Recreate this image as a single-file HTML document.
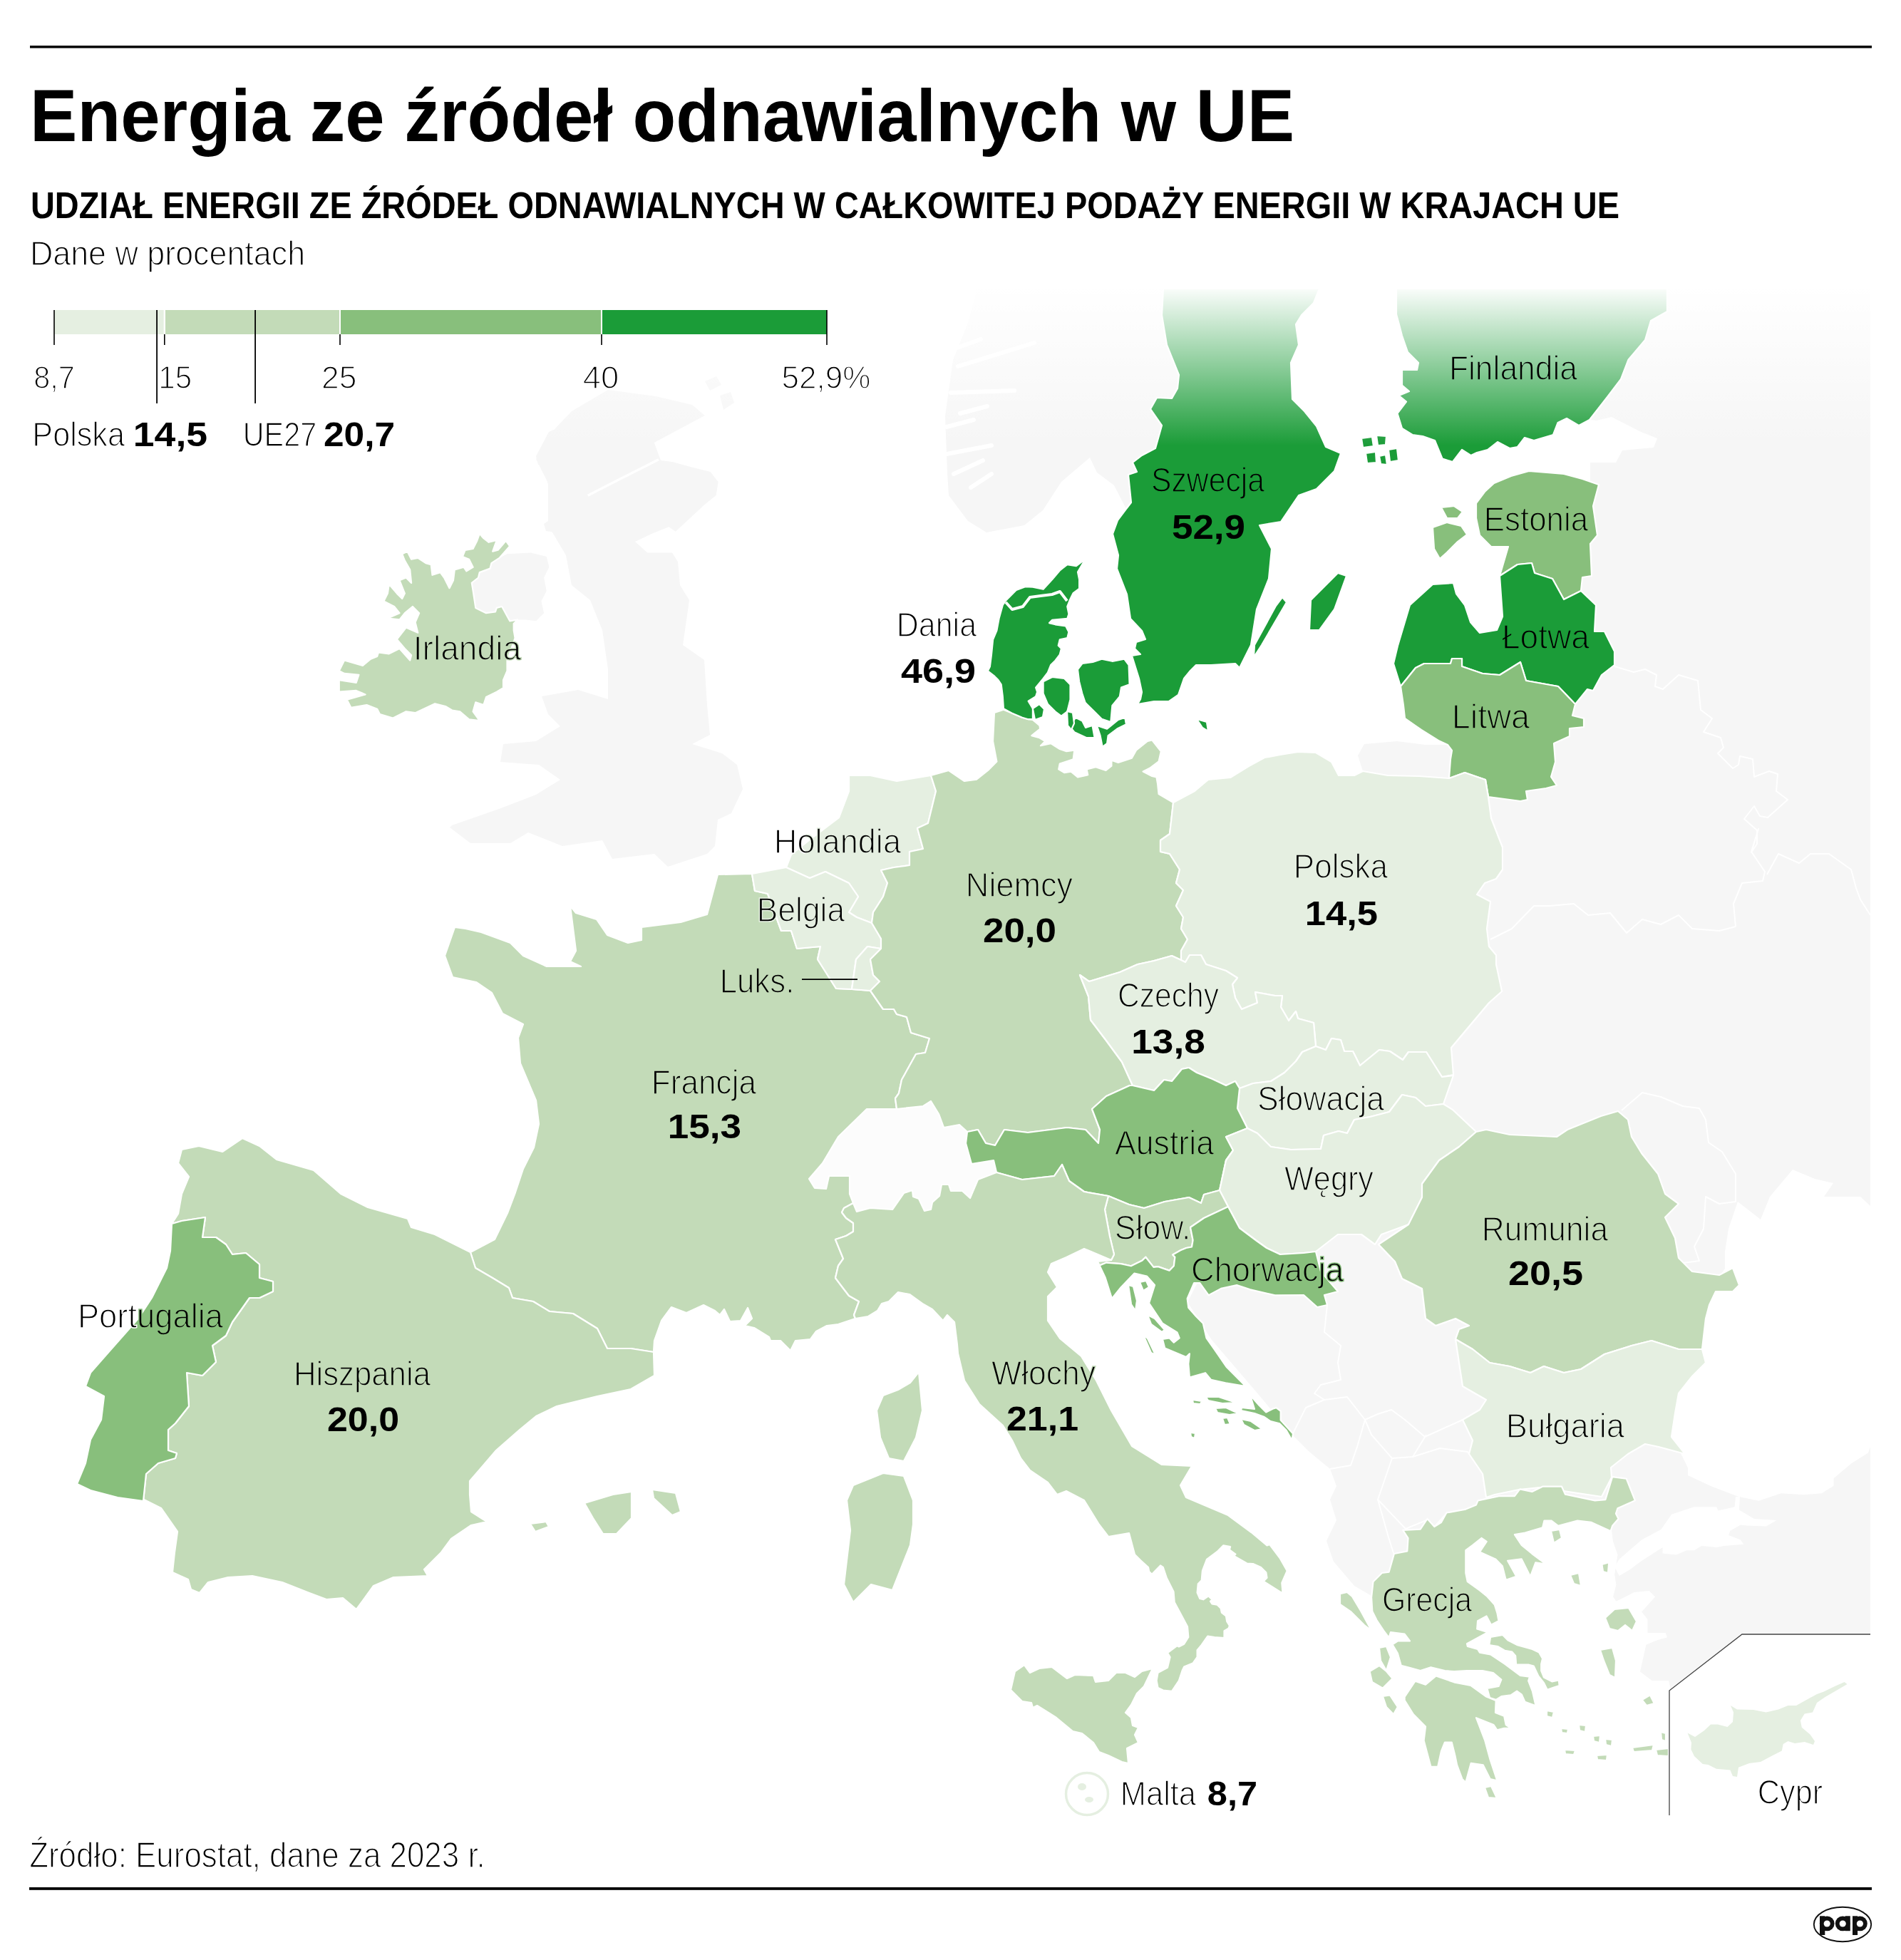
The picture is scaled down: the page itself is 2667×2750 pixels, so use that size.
<!DOCTYPE html><html><head><meta charset="utf-8"><style>html,body{margin:0;padding:0;background:#fff;}svg{display:block;will-change:transform;}text{font-family:"Liberation Sans", sans-serif;}</style></head><body>
<svg xmlns="http://www.w3.org/2000/svg" width="2667" height="2750" viewBox="0 0 2667 2750">
<defs><linearGradient id="fade" x1="0" y1="0" x2="0" y2="1"><stop offset="0" stop-color="#fff" stop-opacity="1"/><stop offset="1" stop-color="#fff" stop-opacity="0"/></linearGradient><linearGradient id="gfin" gradientUnits="userSpaceOnUse" x1="0" y1="400" x2="0" y2="625"><stop offset="0" stop-color="#fff"/><stop offset="1" stop-color="#1b9c38"/></linearGradient><linearGradient id="gnld" gradientUnits="userSpaceOnUse" x1="1090" y1="0" x2="1263" y2="0"><stop offset="0.23" stop-color="#fff"/><stop offset="0.23" stop-color="#e5efe1"/></linearGradient><linearGradient id="gprt" gradientUnits="userSpaceOnUse" x1="113" y1="0" x2="312" y2="0"><stop offset="0.4" stop-color="#fff"/><stop offset="0.4" stop-color="#88bf7c"/></linearGradient><clipPath id="mapclip"><rect x="42" y="405" width="2582" height="2142"/></clipPath></defs>
<rect width="2667" height="2750" fill="#fff"/>
<g clip-path="url(#mapclip)">
<polygon points="853,547 920,556 971,568 988.8,583 917.8,621 927,646 943,648 971.4,655.7 996.7,662 1007.7,676.2 1004.6,695 988.8,707.8 947.8,745.7 938.3,739.3 914.6,748.8 891,759.9 908.3,775.6 943,775.6 951,788.3 954,821 967,842 958,905 988,926 992,989 996,1031 971,1044 1013,1057 1034,1073 1042,1107 1026,1141 1007,1150 1003,1187 992,1198 937,1216 918,1198 859,1205 845,1179 789,1187 741,1168 716,1183 660,1183 631,1161 634,1158 700,1135 752,1115 786,1094 756,1073 702,1069 706,1044 752,1040 786,1019 769,1002 760,977 811,968 853,981 853,939 845,884 828,842 802,821 794,779 769,737 769,678 752,644 780,600 802,577" fill="#f6f6f6"/>
<polygon points="661.8,817.9 672.8,803.1 689.4,788.4 711.5,777.3 744.7,775.5 766.8,781 770.4,795.8 763.1,810.5 766.8,828.9 759.4,843.6 763.1,860.2 752,871.3 737.3,869.4 726.2,869.4 715.2,871.3 704.1,851 696.8,852.9 695,858.4 682,860.2 667.3,852.9 663.6,828.9" fill="#f6f6f6"/>
<polygon points="1371,405 1632,405 1630,442 1637,484 1654,526 1652,545 1644,559 1623,558 1614,574 1630,597 1621,629 1602,639 1589,649 1595,662 1583,666 1587,705 1580,714 1563,681 1539,663 1529,642 1489,676 1463,716 1437,737 1384,747 1358,731 1331,695 1329,663 1326,584 1337,505 1358,453" fill="#f6f6f6"/>
<polygon points="1914,1044 1960,1040 2000,1045 2031,1045 2037,1053 2035,1065 2033,1092 1991,1089 1947,1088 1912,1082 1905,1060" fill="#f6f6f6"/>
<polygon points="752,640 770,606 790,597 785,620 768,651 755,652" fill="#f6f6f6"/>
<polygon points="768,675 780,673 782,687 770,686" fill="#f6f6f6"/>
<polygon points="763,735 775,727 785,732 780,747 766,745" fill="#f6f6f6"/>
<polygon points="989,535 1005,528 1012,540 996,548" fill="#f6f6f6"/>
<polygon points="1010,555 1025,550 1030,565 1015,575" fill="#f6f6f6"/>
<polyline points="824.7,695.2 870,672 924.1,644.7" fill="none" stroke="#fff" stroke-width="3.5" stroke-linejoin="round"/>
<polygon points="2339,405 2624,405 2624,2293 2444,2293 2343.1,2372 2343.1,2366.7 2341,2358.2 2317.9,2358.2 2301,2345.6 2309.4,2307.7 2324.2,2301.4 2338.9,2297.2 2336.8,2290.9 2311.5,2290.9 2311.5,2272 2303.1,2261.5 2322.1,2240.4 2313.6,2232 2292.6,2234.1 2267.4,2246.7 2263.1,2240.4 2267.4,2223.6 2265.2,2208.9 2269.5,2181.5 2263,2162.6 2261,2147.8 2255,2110 2030,2121 1924,2239 1900,2225 1871,2191 1861,2162 1875,2133 1866,2104 1875,2085 1866,2061 1837,2037 1813,2013 1760,1950 1700,1880 1666,1827 1700,1760 1800,1700 1950,1600 2000,1480 2060,1300 2070,1150 2075,1105 2140,1080 2180,1000 2200,900 2200,800 2231,678 2231,649 2267,649 2276,632 2320,628 2325,615 2300,605 2261,585 2240,590 2230,589 2255,557 2274,532 2284.5,504.7 2308,477 2316,450 2339,437" fill="#f6f6f6"/>
<polygon points="2425,1724 2438,1686 2470,1711 2483,1679 2515,1641 2546,1654 2572,1660 2559,1679 2610,1679 2624,1692 2624,2030 2620.9,2038.4 2597.7,2053.1 2572.5,2074.2 2572.5,2084.7 2555.6,2095.2 2530.4,2097.3 2498.8,2095.2 2467.2,2105.7 2437.8,2099.4 2400,2085 2368,2070 2368,2059.5 2360,2043 2340,2011 2350,1966 2360,1922 2375,1871 2380,1820 2406,1800 2420,1780 2420,1756" fill="#fff"/>
<polygon points="2345.2,2124.7 2376.8,2114.2 2408.3,2114.2 2410.4,2119.4 2433.6,2114.2 2435,2100 2441,2100 2439.9,2118.4 2460.9,2131 2492.5,2133.1 2477.8,2141.5 2450.4,2140.5 2442,2139.4 2427.3,2147.8 2425.2,2154.1 2442,2160.5 2446.2,2166.8 2418.9,2168.9 2408.3,2171 2387.3,2168.9 2376.8,2175.2 2366.2,2175.2 2351.5,2181.5 2332.6,2179.4 2332.6,2171 2303.1,2189.9 2286.3,2202.5 2271.6,2211 2265.2,2198.3 2271.6,2187.8 2303.1,2160.5 2330.5,2145.7" fill="#fff"/>
<polyline points="2265,935 2292,943 2308,939 2324,947 2322,963 2333,967 2355,947 2382,955 2386,996 2402,1008 2390,1027 2414,1035 2418,1049 2410,1057 2431,1078 2439,1073 2441,1061 2459,1065 2461,1090 2482,1082 2494,1086 2492,1110 2508,1122 2480,1147 2469,1145 2461,1131 2447,1149 2465,1165 2465,1184 2457,1196 2467,1163 2457,1195 2476,1223 2473,1236 2444,1239 2432,1268 2435,1300" fill="none" stroke="#fff" stroke-width="2" stroke-linejoin="round"/>
<polyline points="2091,1318 2121,1303 2152,1271 2174,1271 2208,1268 2228,1284 2259,1281 2282,1309 2304,1290 2330,1297 2355,1284 2374,1303 2412,1306 2435,1300" fill="none" stroke="#fff" stroke-width="2" stroke-linejoin="round"/>
<polyline points="2479,1227 2495,1198 2524,1211 2540,1198 2566,1198 2597,1220 2604,1246 2610,1262 2624,1284" fill="none" stroke="#fff" stroke-width="2" stroke-linejoin="round"/>
<polyline points="2275,1558 2304,1533 2330,1539 2361,1552 2384,1555 2393,1571 2397,1603 2416,1616 2435,1647 2435,1686 2412,1689 2393,1679 2390,1724 2377,1749 2384,1769 2361,1772" fill="none" stroke="#fff" stroke-width="2" stroke-linejoin="round"/>
<polyline points="1862,1831 1858,1869 1881,1888 1877,1912 1881,1936 1853,1943 1844,1955 1858,1964 1832,1975 1813,2013" fill="none" stroke="#fff" stroke-width="2" stroke-linejoin="round"/>
<polyline points="1934,1746 1957,1770 1967,1794 1995,1808 2000,1850 2014,1860 2042,1850 2061,1860 2047,1865 2042,1879" fill="none" stroke="#fff" stroke-width="2" stroke-linejoin="round"/>
<polyline points="1858,1964 1890,1960 1915,1992 1933,1984 1952,1978 1971,1992 1999,2016 2052,1992" fill="none" stroke="#fff" stroke-width="2" stroke-linejoin="round"/>
<polyline points="1915,1992 1924,2013 1953,2046 1982,2044 2001,2013" fill="none" stroke="#fff" stroke-width="2" stroke-linejoin="round"/>
<polyline points="1866,2061 1895,2056 1904,2030 1915,1992" fill="none" stroke="#fff" stroke-width="2" stroke-linejoin="round"/>
<polyline points="1953,2046 1933,2104 1948,2157 1962,2201 1928,2235" fill="none" stroke="#fff" stroke-width="2" stroke-linejoin="round"/>
<polyline points="1933,2104 1972,2145 2001,2133" fill="none" stroke="#fff" stroke-width="2" stroke-linejoin="round"/>
<polyline points="1982,2044 2020,2032 2059,2037 2083,2071 2085,2101" fill="none" stroke="#fff" stroke-width="2" stroke-linejoin="round"/>
<polygon points="1216,1556 1250,1552 1295,1552 1306,1545 1317,1563 1324,1582 1346,1578 1357,1588 1355,1604 1363,1633 1394,1628 1398,1645 1372,1655 1361,1681 1350,1671 1334,1671 1331,1662 1321,1662 1318,1678 1308,1687 1306,1697 1297,1699 1289,1682 1281,1679 1280,1670 1268,1674 1252,1697 1221,1695 1202,1700 1197,1688 1192,1675 1192,1650 1163,1650 1159,1668 1143,1667 1135,1654 1154,1632 1176,1595" fill="#fcfcfc"/>
<line x1="1334" y1="491" x2="1376" y2="476" stroke="#fff" stroke-width="6" stroke-linecap="round"/>
<line x1="1344" y1="514" x2="1451" y2="481" stroke="#fff" stroke-width="6" stroke-linecap="round"/>
<line x1="1334" y1="551" x2="1423" y2="548" stroke="#fff" stroke-width="6" stroke-linecap="round"/>
<line x1="1347" y1="580" x2="1385" y2="570" stroke="#fff" stroke-width="6" stroke-linecap="round"/>
<line x1="1328" y1="599" x2="1366" y2="589" stroke="#fff" stroke-width="6" stroke-linecap="round"/>
<line x1="1328" y1="637" x2="1391" y2="625" stroke="#fff" stroke-width="6" stroke-linecap="round"/>
<line x1="1338" y1="665" x2="1379" y2="646" stroke="#fff" stroke-width="6" stroke-linecap="round"/>
<line x1="1362" y1="684" x2="1391" y2="665" stroke="#fff" stroke-width="6" stroke-linecap="round"/>
<polygon points="672.8,748.8 678.4,755.2 685.7,760.8 696.8,758 691.2,773.7 698.6,771.8 709.7,758.9 715.2,766.3 700.5,782.9 689.4,790.2 687.6,797.6 672.8,803.1 671,810.5 661.8,817.9 663.6,828.9 667.3,852.9 682,860.2 695,858.4 696.8,852.9 704.1,851 715.2,871.3 726.2,869.4 720.7,875 720.7,884.2 722.6,895.2 711.5,926.5 711.5,941.3 706,954.1 706,965.2 696.8,970.7 682,978.1 678.4,989.1 667.3,985.4 663.6,998.3 672.8,1011.2 658.1,1009.4 645.2,998.3 634.2,996.5 625,991 610.2,987.3 582.6,1000.2 569.7,998.3 551.3,1007.5 532.9,1002 529.2,994.7 514.5,989.1 492.4,992.8 486.8,981.8 512.6,974.4 499.7,968.9 475.8,970.7 475.8,954.1 499.7,957.8 503.4,946.8 483.1,944.9 475.8,941.3 483.1,926.5 508.9,933.9 520,924.7 529.2,921 531,915.5 545.8,917.3 560.5,910 575.2,926.5 577.1,919.2 567.9,910 556.8,897 569.7,880.5 586.3,887.8 582.6,873.1 588.1,860.2 578.9,851 567.9,860.2 560.5,869.4 543.9,867.6 560.5,860.2 553.1,851 538.4,843.6 543.9,832.6 545.8,819.7 556.8,832.6 564.2,840 567.9,832.6 560.5,814.2 569.7,810.5 577.1,817.9 575.2,799.4 567.9,786.6 564.2,777.3 571.5,773.7 577.1,784.7 586.3,782.9 597.3,790.2 604.7,792.1 606.5,806.8 617.6,803.1 623.1,810.5 630.5,825.2 636,814.2 637.8,799.4 650.7,795.8 654.4,801.3 663.6,795.8 658.1,784.7 648.9,781 652.6,771.8 663.6,770 669.2,758.9" fill="#c3dbb8" stroke="#fff" stroke-width="2.2" stroke-linejoin="round"/>
<polygon points="1055,1226 1007,1227 992,1283 955,1294 900,1301 900,1319 881,1323 852,1312 837,1290 808,1281 800,1271 808,1334 800,1349 815,1356 767,1356 734,1341 716,1323 675,1308 653,1303 638,1301 624,1341 635,1371 668,1378 690,1393 705,1422 734,1437 727,1456 730,1492 741,1518 752,1544 756,1577 749,1610 734,1640 723,1673 712,1702 694,1739 660,1757 667,1779 691,1793 714,1807 719,1821 748,1826 771,1840 804,1843 838,1864 852,1892 885,1892 917,1897 918,1881 928,1853 942,1834 963,1842 987,1831 1003,1839 1010,1845 1016,1837 1024,1854 1039,1853 1049,1835 1055,1850 1045,1860 1058,1863 1079,1876 1081,1881 1095,1881 1109,1895 1116,1881 1137,1879 1145,1868 1160,1860 1176,1858 1200,1850 1198,1845 1205,1826 1191,1818 1181,1805 1172,1793 1176,1776 1183,1766 1172,1739 1187,1734 1197,1728 1197,1716 1187,1709 1181,1701 1184,1695 1197,1688 1192,1675 1192,1650 1163,1650 1159,1668 1143,1667 1135,1654 1154,1632 1176,1595 1216,1556 1258,1556 1256,1541 1261,1534 1265,1515 1285,1479 1298,1477 1304,1457 1278,1449 1272,1427 1258,1423 1254,1416 1239,1416 1221,1390 1195,1388 1173,1387 1147,1346 1151,1328 1118,1331 1110,1306 1096,1306 1077,1254 1059,1250" fill="#c3dbb8" stroke="#fff" stroke-width="2.2" stroke-linejoin="round"/>
<polygon points="1289,1925 1294,1979 1285,2017 1268,2050 1247,2046 1235,2017 1230,1979 1239,1958 1260,1950 1277,1940" fill="#c3dbb8" stroke="#fff" stroke-width="2.2" stroke-linejoin="round"/>
<polygon points="255,1613 279,1608 312,1616 340,1597 364,1608 388,1627 440,1642 478,1675 516,1694 572,1710 577,1722 610,1732 660,1757 667,1779 691,1793 714,1807 719,1821 748,1826 771,1840 804,1843 838,1864 852,1892 885,1892 917,1897 918,1930 885,1949 838,1959 781,1973 752,1987 729,2006 696,2035 672,2063 659,2078 659,2097 661,2121 683,2135 661,2140 633,2159 619,2178 595,2202 600,2211 552,2213 524,2225 500,2258 481,2242 458,2244 434,2235 396,2220 354,2211 320,2213 292,2220 280,2235 268,2230 264,2216 242,2206 245,2178 249,2149 226,2116 202,2104 201,2106 205,2068 222,2053 246,2046 248,2039 236,2035 236,2006 246,1997 265,1973 262,1926 284,1930 303,1911 298,1888 317,1874 326,1855 350,1821 364,1821 383,1812 383,1798 364,1793 364,1774 345,1758 326,1760 317,1746 303,1736 284,1736 288,1708 255,1713 241,1717 250,1703 255,1675 265,1651 250,1632" fill="#c3dbb8" stroke="#fff" stroke-width="2.2" stroke-linejoin="round"/>
<polygon points="241,1717 255,1713 288,1708 284,1736 303,1736 317,1746 326,1760 345,1758 364,1774 364,1793 383,1798 383,1812 364,1821 350,1821 326,1855 317,1874 298,1888 303,1911 284,1930 262,1926 265,1973 246,1997 236,2006 236,2035 248,2039 246,2046 222,2053 205,2068 201,2106 165,2101 127,2091 108,2082 120,2053 127,2020 142,1992 146,1959 120,1945 127,1926 156,1893 194,1850 213,1821 234,1779 239,1755" fill="#88bf7c" stroke="#fff" stroke-width="2.2" stroke-linejoin="round"/>
<polygon points="820,2109 860,2097 886,2093 886,2130 865,2152 846,2152 832,2130" fill="#c3dbb8" stroke="#fff" stroke-width="2.2" stroke-linejoin="round"/>
<polygon points="915,2090 948,2095 955,2121 943,2126 917,2102" fill="#c3dbb8" stroke="#fff" stroke-width="2.2" stroke-linejoin="round"/>
<polygon points="744,2138 766,2135 770,2142 751,2149" fill="#c3dbb8" stroke="#fff" stroke-width="2.2" stroke-linejoin="round"/>
<polygon points="1191,1088 1221,1088 1258,1096 1306,1088 1313,1110 1302,1155 1287,1162 1295,1191 1276,1195 1276,1214 1254,1217 1236,1221 1245,1239 1239,1258 1225,1280 1223,1295 1202,1287 1191,1280 1204,1258 1191,1239 1158,1223 1136,1232 1103,1217 1110,1199 1140,1175 1177,1147 1191,1110" fill="#e5efe1" stroke="#fff" stroke-width="2.2" stroke-linejoin="round"/>
<polygon points="1055,1226 1103,1217 1136,1232 1158,1223 1191,1239 1204,1258 1191,1280 1202,1287 1223,1295 1236,1317 1236,1331 1217,1328 1201,1346 1195,1388 1173,1387 1147,1346 1151,1328 1118,1331 1110,1306 1096,1306 1077,1254 1059,1250" fill="#e5efe1" stroke="#fff" stroke-width="2.2" stroke-linejoin="round"/>
<polygon points="1201,1346 1217,1328 1236,1331 1221,1346 1225,1368 1234,1377 1221,1390 1195,1388" fill="#e5efe1" stroke="#fff" stroke-width="2.2" stroke-linejoin="round"/>
<polygon points="1407.9,995.8 1419.4,1000.4 1434.2,1006.7 1442.6,1009.2 1448.9,1010 1458.4,1017.9 1459.2,1022.6 1447.3,1032.1 1458.4,1035.2 1466.3,1040 1460,1046.3 1474.2,1043.1 1486.8,1051 1496.2,1054.2 1507.3,1052.6 1505.7,1065.2 1486.8,1071.5 1485.2,1079.4 1493.1,1084.1 1502.6,1082.6 1512,1090.5 1526.2,1087.3 1524.6,1079.4 1537.3,1076.3 1551.5,1081 1559.4,1074.7 1559.4,1066.8 1568.8,1070 1587.8,1063.6 1594,1052.6 1609.9,1040 1616.2,1038.4 1628.8,1054.2 1625.6,1068.4 1613,1077.8 1603.6,1082.6 1616.2,1088.9 1622.5,1090.5 1624.1,1099.9 1625.6,1114.1 1646,1126 1641,1170 1628,1179 1628,1195 1641,1198 1655,1220 1650,1239 1660,1249 1650,1271 1660,1287 1657,1303 1666,1318 1657,1334 1657,1347 1644,1341 1619,1348 1596,1353 1571,1364 1528,1377 1515,1368 1527,1398 1530,1431 1552,1460 1574,1490 1589,1523 1585,1523 1552,1538 1532,1556 1543,1585 1541,1604 1523,1585 1497,1582 1442,1589 1409,1585 1396,1607 1383,1604 1372,1585 1357,1588 1346,1578 1324,1582 1317,1563 1306,1545 1295,1552 1258,1556 1256,1541 1261,1534 1265,1515 1285,1479 1298,1477 1304,1457 1278,1449 1272,1427 1258,1423 1254,1416 1239,1416 1221,1390 1234,1377 1225,1368 1221,1346 1236,1331 1236,1317 1223,1295 1225,1280 1239,1258 1245,1239 1236,1221 1254,1217 1276,1214 1276,1195 1295,1191 1287,1162 1302,1155 1313,1110 1306,1088 1331,1081 1353,1096 1370,1093.6 1386,1081 1398.4,1068.4 1393,1040 1395,1000" fill="#c3dbb8" stroke="#fff" stroke-width="2.2" stroke-linejoin="round"/>
<polygon points="1522.5,784.7 1509.9,794.2 1497.3,792.1 1486.8,800.5 1476.2,813.1 1463.6,826.8 1448.9,823.6 1438.4,823.2 1425.7,827.9 1411,842.6 1406.8,848.9 1401.6,867.8 1398.4,884.7 1393.1,897.3 1391,918.3 1388.9,935.2 1385.8,941.5 1394.2,947.8 1400.5,954.1 1404.7,960.4 1406.8,977.2 1407.9,994.1 1419.4,1000.4 1434.2,1006.7 1442.6,1009.2 1448.9,1008.8 1448.9,994.1 1442.6,983.6 1453.1,977.2 1455.2,970.9 1453.1,964.6 1463.6,952 1469.9,943.6 1474.1,933.1 1480.5,926.7 1486.8,918.3 1488.9,909.9 1484.7,905.7 1486.8,897.3 1497.3,895.2 1499.4,886.8 1495.2,878.4 1480.5,876.3 1472,874.1 1476.2,869.9 1497.3,867.8 1499.4,861.5 1497.3,851 1501.5,840.5 1505.7,832.1 1514.1,825.8 1514.1,813.1 1512,802.6" fill="#1b9c38" stroke="#fff" stroke-width="2.2" stroke-linejoin="round"/>
<polygon points="1463.6,956.2 1476.2,949.9 1493.1,952 1501.5,960.4 1501.5,981.5 1497.3,998.3 1488.9,1004.6 1480.5,998.3 1469.9,987.8 1463.6,973" fill="#1b9c38" stroke="#fff" stroke-width="2.2" stroke-linejoin="round"/>
<polygon points="1512,939.4 1518.3,931 1533.1,928.9 1545.7,924.6 1560.4,927.8 1577.2,924.6 1583.6,933.1 1584.6,960.4 1573,964.6 1570.9,977.2 1560.4,989.9 1558.3,1013.1 1545.7,1008.8 1535.2,998.3 1522.5,985.7 1518.3,973 1514.1,956.2" fill="#1b9c38" stroke="#fff" stroke-width="2.2" stroke-linejoin="round"/>
<polygon points="1501,1019.5 1508.9,1006.8 1518.3,1011.6 1523.1,1021 1532.5,1017.9 1535.7,1035.2 1524.6,1035.2 1507.3,1027.3" fill="#1b9c38" stroke="#fff" stroke-width="2.2" stroke-linejoin="round"/>
<polygon points="1538.8,1017.9 1553.1,1022.6 1568.8,1010 1578.3,1006.8 1579.9,1016.3 1567.3,1022.6 1554.6,1032.1 1553.1,1043.1 1546.7,1047.9 1543.6,1032.1" fill="#1b9c38" stroke="#fff" stroke-width="2.2" stroke-linejoin="round"/>
<polygon points="1679,1009 1693,1013 1695,1026 1687,1021" fill="#1b9c38" stroke="#fff" stroke-width="2.2" stroke-linejoin="round"/>
<polygon points="1448.9,994.1 1458,988 1465,995 1463,1006 1452,1010" fill="#1b9c38" stroke="#fff" stroke-width="2.2" stroke-linejoin="round"/>
<polygon points="1497,998 1505,1000 1507,1015 1503,1024 1498,1018" fill="#1b9c38" stroke="#fff" stroke-width="2.2" stroke-linejoin="round"/>
<polygon points="1632,405 1630,442 1637,484 1654,526 1652,545 1644,559 1623,558 1614,574 1630,597 1621,629 1602,639 1589,649 1595,662 1583,666 1587,705 1580,714 1568,730 1561,749 1569,779 1567,798 1581,834 1586,868 1602,885 1607,897 1594,901 1592,910 1600,918 1588,920 1598,952 1602,971 1600,981 1596,988 1619,984 1640,984 1653,975 1661,952 1670,941 1678,933 1699,933 1733,931 1739,937 1755,905 1763,855 1780,812 1784,770 1767,737 1797,732 1822,695 1847,686 1872,661 1881,636 1860,627 1847,598 1830,577 1813,560 1811,509 1822,484 1818,455 1826,442 1843,425 1851,405" fill="#1b9c38" stroke="#fff" stroke-width="2.2" stroke-linejoin="round"/>
<polygon points="1839,842 1877,804 1889,808 1872,855 1851,884 1837,884" fill="#1b9c38" stroke="#fff" stroke-width="2.2" stroke-linejoin="round"/>
<polygon points="1799,838 1805,845 1770,905 1759,922 1760,905 1790,850" fill="#1b9c38" stroke="#fff" stroke-width="2.2" stroke-linejoin="round"/>
<polygon points="1959,405 1959,441 1962.6,454 1967,471 1975,494 1990,509 1988,519 1967,519 1967,540.5 1977,549 1962.6,555 1973,563.6 1960.5,580 1967,601 1981.6,610 1996,612 2013,618 2023.6,643.6 2038,648 2051,631 2063.6,639 2072,635 2087,631 2101,620 2118,629 2129,627 2139,614 2152,618 2179,610 2185.6,593 2198,587 2215,597 2230,589 2255,557 2274,532 2284.5,504.7 2308,477 2316,450 2339,437 2339,405" fill="#1b9c38" stroke="#fff" stroke-width="2.2" stroke-linejoin="round"/>
<polygon points="2071,706 2083,690 2096,678 2120,668 2145,661 2170,663 2194,665 2220,672 2243,680 2235,710 2241,751 2231,763 2233,808 2220,810 2218,829 2194,841 2178,812 2153,804 2149,790 2129,792 2104,808 2116,767 2092,767 2076,751 2071,727" fill="#88bf7c" stroke="#fff" stroke-width="2.2" stroke-linejoin="round"/>
<polygon points="2010,740 2030,733 2050,738 2058,750 2045,760 2030,775 2020,784 2012,770" fill="#88bf7c" stroke="#fff" stroke-width="2.2" stroke-linejoin="round"/>
<polygon points="2022,712 2040,710 2052,718 2045,727 2030,727" fill="#88bf7c" stroke="#fff" stroke-width="2.2" stroke-linejoin="round"/>
<polygon points="2104,808 2129,792 2149,790 2153,804 2178,812 2194,841 2218,829 2239,849 2237,886 2251,886 2265,914 2265,933 2247,947 2235,969 2227,967 2210,988 2186,963 2141,955 2133,929 2104,947 2080,945 2051,935 2051,924 2037,924 2035,931 1998,931 1986,937 1965,963 1955,931 1961,906 1978,849 2010,820 2039,818 2043,833 2055,849 2063,873 2076,888 2100,884 2108,865" fill="#1b9c38" stroke="#fff" stroke-width="2.2" stroke-linejoin="round"/>
<polygon points="1965,963 1986,937 1998,931 2035,931 2037,924 2051,924 2051,935 2080,945 2104,947 2133,929 2141,955 2186,963 2210,988 2206,1004 2222,1008 2222,1020 2202,1022 2202,1033 2180,1043 2182,1069 2176,1090 2184,1102 2169,1106 2141,1110 2143,1122 2133,1124 2088,1118 2084,1094 2055,1084 2033,1092 2035,1065 2037,1053 2031,1045 2018,1039 1994,1024 1971,1008 1969,990" fill="#88bf7c" stroke="#fff" stroke-width="2.2" stroke-linejoin="round"/>
<polygon points="1646,1126 1676,1110 1695,1094 1726,1091 1752,1075 1774,1063 1796,1059 1821,1055 1846,1056 1868,1069 1878,1088 1900,1088 1912,1082 1947,1088 1991,1089 2033,1092 2055,1084 2084,1094 2088,1118 2092,1148 2108,1189 2108,1220 2099,1233 2083,1239 2072,1255 2091,1265 2086,1303 2089,1328 2099,1340 2099,1353 2105,1381 2107,1391 2089,1407 2036,1470 2039,1508 2023,1511 2001,1476 1976,1476 1968,1487 1950,1475 1935,1473 1908,1495 1898,1475 1886,1475 1881,1459 1868,1457 1860,1473 1846,1468 1843,1435 1821,1429 1818,1419 1808,1432 1797,1413 1799,1397 1789,1397 1761,1392 1764,1407 1742,1416 1733,1400 1729,1381 1736,1372 1720,1362 1692,1353 1685,1340 1669,1340 1663,1350 1657,1347 1657,1334 1666,1318 1657,1303 1660,1287 1650,1271 1660,1249 1650,1239 1655,1220 1641,1198 1628,1195 1628,1179 1641,1170" fill="#e5efe1" stroke="#fff" stroke-width="2.2" stroke-linejoin="round"/>
<polygon points="1515,1368 1528,1377 1571,1364 1596,1353 1619,1348 1644,1341 1657,1347 1663,1350 1669,1340 1685,1340 1692,1353 1720,1362 1736,1372 1729,1381 1733,1400 1742,1416 1764,1407 1761,1392 1789,1397 1799,1397 1797,1413 1808,1432 1818,1419 1821,1429 1843,1435 1846,1468 1827,1476 1818,1489 1802,1505 1783,1517 1758,1520 1739,1527 1733,1517 1720,1523 1701,1514 1679,1505 1668,1498 1658,1500 1644,1517 1633,1515 1619,1530 1589,1523 1574,1490 1552,1460 1530,1431 1527,1398" fill="#e5efe1" stroke="#fff" stroke-width="2.2" stroke-linejoin="round"/>
<polygon points="1739,1527 1758,1520 1783,1517 1802,1505 1818,1489 1827,1476 1846,1468 1860,1473 1868,1457 1881,1459 1886,1475 1898,1475 1908,1495 1935,1473 1950,1475 1968,1487 1976,1476 2001,1476 2023,1511 2039,1509 2025,1549 2000,1552 1986,1540 1967,1536 1949,1560 1922,1567 1900,1571 1890,1590 1878,1587 1857,1593 1853,1612 1811,1613 1783,1609 1764,1590 1750,1583 1736,1555" fill="#e5efe1" stroke="#fff" stroke-width="2.2" stroke-linejoin="round"/>
<polygon points="1532,1556 1552,1538 1585,1523 1589,1523 1619,1530 1633,1515 1644,1517 1658,1500 1668,1498 1679,1505 1701,1514 1720,1523 1733,1517 1739,1527 1736,1555 1750,1583 1720,1595 1730,1614 1720,1628 1711,1670 1689,1676 1685,1688 1668,1680 1634,1686 1605,1695 1584,1690 1555,1678 1521,1672 1500,1657 1490,1634 1479,1650 1434,1655 1398,1645 1394,1628 1363,1633 1355,1604 1357,1588 1372,1585 1383,1604 1396,1607 1409,1585 1442,1589 1497,1582 1523,1585 1541,1604 1543,1585" fill="#88bf7c" stroke="#fff" stroke-width="2.2" stroke-linejoin="round"/>
<polygon points="1750,1583 1764,1590 1783,1609 1811,1613 1853,1612 1857,1593 1878,1587 1890,1590 1900,1571 1922,1567 1949,1560 1967,1536 1986,1540 2000,1552 2025,1549 2038,1557 2071,1588 2047,1609 2019,1628 1995,1661 1995,1680 1976,1718 1938,1732 1929,1746 1910,1732 1877,1732 1846,1756 1829,1758 1796,1760 1777,1751 1763,1741 1739,1723 1723,1693 1711,1670 1720,1628 1730,1614 1720,1595" fill="#e5efe1" stroke="#fff" stroke-width="2.2" stroke-linejoin="round"/>
<polygon points="1555,1678 1584,1690 1605,1695 1634,1686 1668,1680 1685,1688 1689,1676 1711,1670 1723,1693 1706,1701 1689,1709 1670,1722 1673.6,1740 1672,1749.5 1664.1,1751 1656.2,1754.2 1645.2,1760.5 1648.4,1763.7 1646.8,1776.3 1640.5,1782.6 1624.7,1777.1 1618.4,1777.9 1607.3,1763.7 1602.6,1768.4 1586.8,1776.3 1572.6,1773.1 1552.1,1771.6 1542.6,1775.5 1540,1770 1559,1768 1563,1760 1557,1735 1550,1697" fill="#c3dbb8" stroke="#fff" stroke-width="2.2" stroke-linejoin="round"/>
<polygon points="1542.6,1775.5 1552.1,1771.6 1572.6,1773.1 1586.8,1776.3 1602.6,1768.4 1607.3,1763.7 1618.4,1777.9 1624.7,1777.1 1640.5,1782.6 1646.8,1776.3 1648.4,1763.7 1645.2,1760.5 1656.2,1754.2 1664.1,1751 1672,1749.5 1673.6,1740 1670,1722 1689,1709 1706,1701 1723,1693 1739,1723 1763,1741 1777,1751 1796,1760 1829,1758 1846,1756 1853,1784 1877,1812 1858,1817 1862,1831 1848,1834 1829,1817 1788.8,1817.3 1754.1,1809.4 1735.1,1803.1 1713,1807.9 1695.7,1817.3 1683.1,1800 1675.2,1800 1665.7,1822 1667.3,1834.7 1678.3,1847.3 1687.8,1856.8 1692.5,1877.3 1703.6,1893.1 1721,1918.3 1747.8,1945.1 1719.4,1940.4 1698.9,1935.7 1691,1926.2 1668.9,1932.5 1667.3,1913.6 1668.9,1899.4 1664.1,1904.1 1634.2,1891.5 1631,1878.9 1640.5,1877.3 1646.8,1883.6 1654.7,1877.3 1651.5,1869.4 1631,1856.8 1612,1828.4 1620,1803.1 1608.9,1790.5 1591.5,1786.6 1572.6,1806.3 1560,1822 1550.5,1792.1" fill="#88bf7c" stroke="#fff" stroke-width="2.2" stroke-linejoin="round"/>
<polygon points="1197,1688 1202,1700 1221,1695 1252,1697 1268,1674 1280,1670 1281,1679 1289,1682 1297,1699 1306,1697 1308,1687 1318,1678 1321,1662 1331,1662 1334,1671 1350,1671 1361,1681 1372,1655 1398,1645 1434,1655 1479,1650 1490,1634 1500,1657 1521,1672 1555,1678 1550,1697 1557,1735 1563,1760 1559,1768 1521,1752 1496,1764 1475,1773 1470,1785 1483,1806 1470,1819 1470,1853 1487,1878 1517,1903 1538,1937 1559,1979 1588,2029 1630,2055 1672,2057 1656,2084 1664,2101 1723,2126 1755.5,2150 1777.5,2168.4 1781.2,2167 1795.9,2186.7 1805.7,2203.9 1798.3,2221 1799.6,2235.7 1772.6,2218.6 1777.5,2213.7 1776.3,2206.3 1769,2199 1757.9,2194 1749.4,2193.5 1731,2183 1733.4,2180.6 1724.9,2174.5 1726.1,2170.2 1716.3,2168.4 1707.7,2177 1693,2188 1686.9,2203.9 1685.7,2217.3 1680.8,2222.2 1679.6,2234.5 1683.3,2243 1688.1,2244.3 1695.5,2239.4 1700.4,2244.3 1698,2246.7 1700.4,2250.4 1707.7,2251.6 1712.6,2256.5 1713.9,2262.6 1720,2267.5 1721.2,2274.9 1724.9,2281 1723.6,2284.7 1717.5,2288.3 1717.5,2298 1704,2297 1694.3,2295.7 1685.7,2308 1679.6,2315.3 1679.6,2325 1673.5,2333.6 1661.2,2338.5 1658.8,2343.4 1653.9,2358 1644,2372.8 1631.8,2371.6 1624.5,2368 1622.6,2358 1624.5,2347 1638,2339.8 1641.6,2325 1638,2319 1651.4,2309.2 1653.9,2310.4 1661.2,2306.7 1667.3,2297 1666,2282.2 1657.5,2266.3 1647.7,2248 1646.5,2233.2 1636.7,2213.7 1631.8,2199 1628,2196.5 1616,2208.8 1612.2,2205 1611,2199 1600,2189 1592,2181 1584,2151 1555,2156 1542,2139 1521,2105 1496,2092 1483,2097 1470,2080 1445,2063 1432,2046 1420,2021 1407,2000 1374,1970 1353,1937 1344,1899 1343,1887 1339,1855 1329,1845 1323,1853 1308,1837 1294,1829 1276,1816 1260,1813 1247,1826 1237,1829 1231,1839 1218,1847 1200,1850 1198,1845 1205,1826 1191,1818 1181,1805 1172,1793 1176,1776 1183,1766 1172,1739 1187,1734 1197,1728 1197,1716 1187,1709 1181,1701 1184,1695" fill="#c3dbb8" stroke="#fff" stroke-width="2.2" stroke-linejoin="round"/>
<polygon points="1418,2371 1424,2345 1437,2336 1445,2347 1458,2341 1476,2339 1497,2355 1508,2350 1534,2351 1537,2360 1555,2358 1566,2347 1579,2347 1592,2353 1602,2345 1617,2341 1605,2366 1595,2376 1587,2392 1579,2403 1587,2410 1589,2421 1597,2424 1592,2434 1597,2445 1581,2453 1583,2474 1574,2472 1555,2463 1542,2458 1534,2445 1518,2432 1505,2429 1482,2410 1471,2403 1455,2393 1449,2396 1447,2389 1434,2387" fill="#c3dbb8" stroke="#fff" stroke-width="2.2" stroke-linejoin="round"/>
<polygon points="1197,2084 1239,2067 1268,2071 1281,2105 1281,2139 1277,2168 1252,2231 1222,2223 1197,2248 1184,2223 1188,2189 1193,2147 1188,2105" fill="#c3dbb8" stroke="#fff" stroke-width="2.2" stroke-linejoin="round"/>
<polygon points="1934,1746 1976,1718 1995,1680 1995,1661 2019,1628 2047,1609 2071,1588 2085,1585 2118,1592 2184,1595 2199,1585 2246,1566 2270,1559 2284,1571 2289,1595 2303,1618 2326,1647 2336,1675 2355,1689 2336,1708 2350,1737 2355,1765 2374,1784 2412,1789 2431,1779 2440,1803 2431,1812 2407,1812 2398,1831 2393,1850 2388,1893 2355,1893 2317,1881 2289,1888 2251,1900 2218,1921 2194,1926 2166,1917 2147,1926 2118,1917 2090,1912 2066,1893 2042,1879 2047,1865 2061,1860 2042,1850 2014,1860 2000,1850 1995,1808 1967,1794 1957,1770" fill="#c3dbb8" stroke="#fff" stroke-width="2.2" stroke-linejoin="round"/>
<polygon points="2042,1879 2066,1893 2090,1912 2118,1917 2147,1926 2166,1917 2194,1926 2218,1921 2251,1900 2289,1888 2317,1881 2355,1893 2388,1893 2393,1912 2374,1931 2355,1955 2350,1983 2345,2016 2364,2040 2327,2030 2308,2026 2284,2040 2260,2059 2261,2073 2247,2100 2194,2092 2160,2087 2131,2090 2097,2097 2085,2101 2080,2068 2061,2040 2066,2021 2052,1992 2076,1978 2085,1964 2052,1945 2047,1912" fill="#e5efe1" stroke="#fff" stroke-width="2.2" stroke-linejoin="round"/>
<polygon points="1924.1,2241.2 1926.5,2219.2 1938.8,2207 1948.6,2205.7 1955.9,2180 1974.3,2176.3 1975.5,2158 1968.2,2146.9 1992.7,2145.7 2002.5,2131 2012.3,2142 2022,2136 2029.4,2122.5 2056.3,2117.6 2071,2111.4 2073.5,2105.3 2102.9,2099.2 2124.9,2099.2 2132.3,2089.4 2149.4,2093 2164.1,2085.7 2191,2085.7 2196,2096.7 2237.6,2105.3 2252.3,2104.1 2262.1,2072.2 2281.7,2074.7 2293.9,2105.3 2269.4,2116.3 2267,2123.7 2270.6,2131 2262.1,2140.8 2259.6,2148.2 2232.7,2135.9 2213.1,2133.5 2186.1,2140.8 2176.3,2133.5 2166.5,2133.5 2164.1,2143.3 2139.6,2150.6 2124.9,2153.1 2134.7,2167.8 2149.4,2180 2169,2194.7 2154.3,2192.3 2147,2211.9 2134.7,2187.4 2115.1,2189.8 2127.4,2211.9 2112.7,2216.7 2107.8,2197.2 2098,2187.4 2075.9,2177.6 2085.7,2162.9 2078.4,2158 2066.1,2167.8 2056.3,2175.1 2056.3,2207 2058.8,2219.2 2075.9,2231.4 2086.4,2240 2096.8,2251.4 2100.6,2263.7 2102.5,2274.1 2092.1,2279.8 2085.5,2267.5 2073.1,2274.1 2072.2,2285.5 2087.3,2290.2 2058,2306.3 2058.9,2310 2073.1,2313.9 2076,2318.6 2091.1,2321.4 2111,2334.7 2132.8,2350.8 2146,2352.7 2144.2,2358.4 2149.8,2372.6 2154.6,2393.4 2139.4,2387.7 2134.7,2377.3 2128.1,2372.6 2119.5,2378.3 2106.3,2380.2 2098.7,2384.9 2090,2382 2086.4,2368.8 2102.5,2366 2106.3,2356.5 2094.9,2347 2079.8,2344.2 2058,2344.2 2040,2345.1 2027,2344.1 2007.4,2339.2 1992.7,2344.1 1975.5,2339.2 1965.7,2336.8 1960.8,2319.6 1953.5,2307.4 1960.8,2302.5 1978,2302.5 1970.6,2292.7 1951,2290.2 1948.6,2297.6 1941.2,2287.8 1931.4,2273.1 1925.3,2260.8" fill="#c3dbb8" stroke="#fff" stroke-width="2.2" stroke-linejoin="round"/>
<polygon points="2098.7,2386 2098,2402.9 2110.2,2407.8 2112.7,2420 2120,2424.9 2110.2,2424.9 2100.4,2427.4 2095.5,2420 2071,2410.2 2083.3,2442.1 2090.6,2469 2100.4,2498.4 2090.6,2496 2080.8,2476.4 2063.7,2473.9 2056.3,2500.8 2051.4,2496 2044.1,2476.4 2041.6,2464.1 2036.7,2444.5 2027,2444.5 2022,2456.8 2017.2,2478.8 2007.4,2478.8 1997.6,2442.1 2000,2422.5 1982.9,2405.3 1970.6,2385.7 1970.6,2380.8 1985.3,2358.8 2000,2363.7 2014.7,2351.4 2040,2360.3 2063.7,2365 2084.5,2380.2" fill="#c3dbb8" stroke="#fff" stroke-width="2.2" stroke-linejoin="round"/>
<polygon points="2089.2,2308.2 2091.1,2296.8 2108.2,2294 2115.8,2301.6 2129,2308.2 2149.8,2313.9 2159.3,2318.6 2164.1,2327.1 2162.2,2334.7 2162.2,2344.2 2166,2353.6 2177.3,2359.3 2186.8,2357.4 2187.7,2365 2179.2,2367.8 2170.7,2370.7 2166,2361.2 2158.4,2351.7 2151.7,2337.5 2144.2,2335.6 2127.1,2335.6 2126.2,2323.3 2121.4,2317.7 2111,2315.8 2101.6,2310.1" fill="#c3dbb8" stroke="#fff" stroke-width="2.2" stroke-linejoin="round"/>
<polygon points="1910,615 1925,613 1927,626 1912,628" fill="#1b9c38" stroke="#fff" stroke-width="2.2" stroke-linejoin="round"/>
<polygon points="1931,611 1945,612 1944,624 1933,625" fill="#1b9c38" stroke="#fff" stroke-width="2.2" stroke-linejoin="round"/>
<polygon points="1948,631 1960,629 1962,646 1950,648" fill="#1b9c38" stroke="#fff" stroke-width="2.2" stroke-linejoin="round"/>
<polygon points="1916,636 1930,634 1931,649 1918,650" fill="#1b9c38" stroke="#fff" stroke-width="2.2" stroke-linejoin="round"/>
<polygon points="1935,640 1944,638 1946,652 1937,651" fill="#1b9c38" stroke="#fff" stroke-width="2.2" stroke-linejoin="round"/>
<polygon points="1880,2236.3 1889.8,2233.9 1897,2240 1909.4,2260.8 1924.1,2287.8 1914,2280 1894.7,2260.8 1880,2251" fill="#c3dbb8" stroke="#fff" stroke-width="2.2" stroke-linejoin="round"/>
<polygon points="1921.6,2345 1935,2337 1945,2345 1953.5,2355 1940,2368.6 1925,2360" fill="#c3dbb8" stroke="#fff" stroke-width="2.2" stroke-linejoin="round"/>
<polygon points="1940,2380 1950,2378.4 1960.8,2395 1955,2405.3 1945,2395" fill="#c3dbb8" stroke="#fff" stroke-width="2.2" stroke-linejoin="round"/>
<polygon points="1935,2312 1945,2310 1951,2325 1945,2344 1937,2330" fill="#c3dbb8" stroke="#fff" stroke-width="2.2" stroke-linejoin="round"/>
<polygon points="2176,2148 2188,2146 2191,2158 2180,2165" fill="#c3dbb8" stroke="#fff" stroke-width="2.2" stroke-linejoin="round"/>
<polygon points="2247.4,2195 2257.2,2192.3 2256,2207 2249,2205" fill="#c3dbb8" stroke="#fff" stroke-width="2.2" stroke-linejoin="round"/>
<polygon points="2252,2270 2265,2258 2285,2256 2296,2275 2290,2288 2280,2280 2270,2288 2258,2285" fill="#c3dbb8" stroke="#fff" stroke-width="2.2" stroke-linejoin="round"/>
<polygon points="2245,2315 2262,2312 2267,2330 2266,2354 2258,2350 2250,2330" fill="#c3dbb8" stroke="#fff" stroke-width="2.2" stroke-linejoin="round"/>
<polygon points="2303.7,2385 2315,2378.4 2320.8,2390 2310,2393" fill="#c3dbb8" stroke="#fff" stroke-width="2.2" stroke-linejoin="round"/>
<polygon points="2203,2210 2215,2207 2218,2225 2208,2222" fill="#c3dbb8" stroke="#fff" stroke-width="2.2" stroke-linejoin="round"/>
<polygon points="2083,2508 2092,2506 2100,2523 2088,2522" fill="#c3dbb8" stroke="#fff" stroke-width="2.2" stroke-linejoin="round"/>
<polygon points="2170,2400 2180,2402 2178,2410 2170,2408" fill="#c3dbb8" stroke="#fff" stroke-width="2.2" stroke-linejoin="round"/>
<polygon points="2190,2425 2200,2426 2199,2432 2191,2431" fill="#c3dbb8" stroke="#fff" stroke-width="2.2" stroke-linejoin="round"/>
<polygon points="2215,2420 2225,2421 2224,2430 2216,2428" fill="#c3dbb8" stroke="#fff" stroke-width="2.2" stroke-linejoin="round"/>
<polygon points="2235,2436 2245,2435 2244,2445 2236,2443" fill="#c3dbb8" stroke="#fff" stroke-width="2.2" stroke-linejoin="round"/>
<polygon points="2252,2440 2262,2441 2261,2450 2253,2448" fill="#c3dbb8" stroke="#fff" stroke-width="2.2" stroke-linejoin="round"/>
<polygon points="2195,2455 2210,2456 2208,2462 2196,2461" fill="#c3dbb8" stroke="#fff" stroke-width="2.2" stroke-linejoin="round"/>
<polygon points="2240,2463 2255,2462 2254,2470 2241,2469" fill="#c3dbb8" stroke="#fff" stroke-width="2.2" stroke-linejoin="round"/>
<polygon points="2290,2452 2320,2448 2318,2456 2292,2458" fill="#c3dbb8" stroke="#fff" stroke-width="2.2" stroke-linejoin="round"/>
<polygon points="2323,2455 2341,2453 2341,2464 2325,2463" fill="#c3dbb8" stroke="#fff" stroke-width="2.2" stroke-linejoin="round"/>
<polygon points="2330,2430 2337,2432 2337,2443 2331,2441" fill="#c3dbb8" stroke="#fff" stroke-width="2.2" stroke-linejoin="round"/>
<polygon points="1599,1799 1608,1797 1612,1806 1604,1811" fill="#88bf7c" stroke="#fff" stroke-width="2.2" stroke-linejoin="round"/>
<polygon points="1583,1803 1590,1805 1595,1825 1593,1839 1587,1830" fill="#88bf7c" stroke="#fff" stroke-width="2.2" stroke-linejoin="round"/>
<polygon points="1610,1845 1620,1850 1634,1866 1630,1869 1615,1858" fill="#88bf7c" stroke="#fff" stroke-width="2.2" stroke-linejoin="round"/>
<polygon points="1604,1873 1610,1878 1621,1901 1615,1898" fill="#88bf7c" stroke="#fff" stroke-width="2.2" stroke-linejoin="round"/>
<polygon points="1705,1976 1720,1975 1737,1983 1725,1985 1708,1982" fill="#88bf7c" stroke="#fff" stroke-width="2.2" stroke-linejoin="round"/>
<polygon points="1692,1960 1710,1960 1734,1968 1715,1969 1695,1965" fill="#88bf7c" stroke="#fff" stroke-width="2.2" stroke-linejoin="round"/>
<polygon points="1741,1991 1755,1994 1771,2005 1760,2007 1745,1999" fill="#88bf7c" stroke="#fff" stroke-width="2.2" stroke-linejoin="round"/>
<polygon points="1715,1990 1722,1989 1726,1998 1718,1999" fill="#88bf7c" stroke="#fff" stroke-width="2.2" stroke-linejoin="round"/>
<polygon points="1670,2010 1677,2011 1676,2018 1671,2016" fill="#88bf7c" stroke="#fff" stroke-width="2.2" stroke-linejoin="round"/>
<polygon points="1673,1964 1686,1966 1684,1970 1674,1969" fill="#88bf7c" stroke="#fff" stroke-width="2.2" stroke-linejoin="round"/>
<polygon points="1754.1,1957.8 1766.7,1972 1776.2,1981.4 1785.6,1976.7 1790.4,1975.1 1796.7,1979.9 1796.7,1992.5 1814,2011.4 1812.5,2020.9 1804.6,2006.7 1795.1,1997.2 1782.5,1994.1 1773,1987.7 1760,1983 1741,1979 1742,1975 1760,1977" fill="#88bf7c" stroke="#fff" stroke-width="2.2" stroke-linejoin="round"/>
<polyline points="1411,845 1420,855 1435,851 1445,838 1460,836 1476,834 1487,830 1497,843" fill="none" stroke="#fff" stroke-width="4" stroke-linejoin="round"/>
<rect x="0" y="400" width="2667" height="225" fill="url(#fade)"/>
</g>
<polygon points="2342,2547 2342,2372 2444,2293 2622,2293 2622,2547" fill="#fff"/>
<polyline points="2342,2547 2342,2372 2444,2293 2624,2293" fill="none" stroke="#444" stroke-width="1.3"/>
<polygon points="2367.6,2431.5 2378,2437 2391,2428 2400,2419.5 2410,2419.5 2423.5,2423 2431,2416 2432,2402.5 2428,2393 2437,2398.6 2460,2399 2477.6,2402.5 2495,2398.6 2508.5,2393 2520,2393 2549,2377 2558.7,2373.5 2574,2366 2587.6,2360 2591.5,2363 2580,2369.7 2560.6,2381 2549,2389 2543,2402.5 2531.7,2404.4 2525.9,2414 2527.8,2423.7 2539.4,2433.4 2546,2443 2544,2448 2531.7,2444 2518,2446 2508.5,2443 2501.7,2447 2499.8,2456.6 2485,2464 2470,2472 2454,2474 2439,2479.7 2437,2493 2431,2492 2427.4,2483.6 2408,2481.7 2396.5,2475.9 2388.8,2475 2377,2464 2372.4,2454.6 2373,2445" fill="#e5efe1"/>
<circle cx="1525" cy="2517" r="29.5" fill="none" stroke="#e5efe1" stroke-width="3.5"/>
<ellipse cx="1518" cy="2507" rx="6" ry="5" fill="#e5efe1"/>
<ellipse cx="1528" cy="2525" rx="6" ry="4" fill="#e5efe1"/>
<rect x="42" y="64" width="2584" height="3.5" fill="#000"/>
<rect x="76" y="435" width="153.7" height="34" fill="#e5efe1"/>
<rect x="232" y="435" width="244" height="34" fill="#c3dbb8"/>
<rect x="478" y="435" width="365" height="34" fill="#88bf7c"/>
<rect x="845" y="435" width="315" height="34" fill="#1b9c38"/>
<rect x="75.2" y="435" width="1.6" height="49" fill="#000"/>
<rect x="1159.2" y="435" width="1.6" height="49" fill="#000"/>
<rect x="230" y="469" width="1.6" height="15" fill="#000"/>
<rect x="476.2" y="469" width="1.6" height="15" fill="#000"/>
<rect x="843.2" y="469" width="1.6" height="15" fill="#000"/>
<rect x="219.2" y="435" width="1.8" height="131" fill="#000"/>
<rect x="357.2" y="435" width="1.8" height="131" fill="#000"/>
<text id="title" x="42.06" y="197.8" font-size="104.65" font-weight="bold" fill="#000" textLength="1773.96" lengthAdjust="spacingAndGlyphs">Energia ze źródeł odnawialnych w UE</text>
<text id="sub" x="42.99" y="305.6" font-size="51.60" font-weight="bold" fill="#000" textLength="2229.01" lengthAdjust="spacingAndGlyphs">UDZIAŁ ENERGII ZE ŹRÓDEŁ ODNAWIALNYCH W CAŁKOWITEJ PODAŻY ENERGII W KRAJACH UE</text>
<text id="dane" x="41.91" y="372" font-size="48.69" font-weight="normal" fill="#000" stroke="#fff" stroke-width="1.5" textLength="386.17" lengthAdjust="spacingAndGlyphs">Dane w procentach</text>
<text id="l87" x="47.23" y="545" font-size="45.06" font-weight="normal" fill="#000" stroke="#fff" stroke-width="1.5" textLength="57.53" lengthAdjust="spacingAndGlyphs">8,7</text>
<text id="l15" x="222.37" y="545" font-size="45.06" font-weight="normal" fill="#000" stroke="#fff" stroke-width="1.5" textLength="46.92" lengthAdjust="spacingAndGlyphs">15</text>
<text id="l25" x="451.10" y="545" font-size="45.06" font-weight="normal" fill="#000" stroke="#fff" stroke-width="1.5" textLength="49.41" lengthAdjust="spacingAndGlyphs">25</text>
<text id="l40" x="817.81" y="545" font-size="45.06" font-weight="normal" fill="#000" stroke="#fff" stroke-width="1.5" textLength="50.38" lengthAdjust="spacingAndGlyphs">40</text>
<text id="l529" x="1096.60" y="545" font-size="45.06" font-weight="normal" fill="#000" stroke="#fff" stroke-width="1.5" textLength="124.87" lengthAdjust="spacingAndGlyphs">52,9%</text>
<text id="lpol" x="45.31" y="626" font-size="47.97" font-weight="normal" fill="#000" stroke="#fff" stroke-width="1.5" textLength="129.73" lengthAdjust="spacingAndGlyphs">Polska</text>
<text id="lpolv" x="186.84" y="626" font-size="47.97" font-weight="bold" fill="#000" textLength="104.22" lengthAdjust="spacingAndGlyphs">14,5</text>
<text id="lue" x="340.74" y="626" font-size="47.97" font-weight="normal" fill="#000" stroke="#fff" stroke-width="1.5" textLength="103.38" lengthAdjust="spacingAndGlyphs">UE27</text>
<text id="luev" x="453.91" y="626" font-size="47.97" font-weight="bold" fill="#000" textLength="100.17" lengthAdjust="spacingAndGlyphs">20,7</text>
<text id="fin" x="2032.89" y="533" font-size="47.97" font-weight="normal" fill="#000" stroke="url(#gfin)" stroke-width="1.5" textLength="180.12" lengthAdjust="spacingAndGlyphs">Finlandia</text>
<text id="swe" x="1614.92" y="690" font-size="47.97" font-weight="normal" fill="#000" stroke="#1b9c38" stroke-width="1.5" textLength="159.11" lengthAdjust="spacingAndGlyphs">Szwecja</text>
<text id="est" x="2081.85" y="745" font-size="47.97" font-weight="normal" fill="#000" stroke="#88bf7c" stroke-width="1.5" textLength="146.18" lengthAdjust="spacingAndGlyphs">Estonia</text>
<text id="dk" x="1257.80" y="893" font-size="47.97" font-weight="normal" fill="#000" stroke="#fff" stroke-width="1.5" textLength="112.25" lengthAdjust="spacingAndGlyphs">Dania</text>
<text id="irl" x="579.78" y="926" font-size="47.97" font-weight="normal" fill="#000" stroke="#c3dbb8" stroke-width="1.5" textLength="151.26" lengthAdjust="spacingAndGlyphs">Irlandia</text>
<text id="lva" x="2106.98" y="910" font-size="47.97" font-weight="normal" fill="#000" stroke="#1b9c38" stroke-width="1.5" textLength="123.03" lengthAdjust="spacingAndGlyphs">Łotwa</text>
<text id="ltu" x="2036.73" y="1022" font-size="47.97" font-weight="normal" fill="#000" stroke="#88bf7c" stroke-width="1.5" textLength="109.32" lengthAdjust="spacingAndGlyphs">Litwa</text>
<text id="nld" x="1085.87" y="1197" font-size="47.97" font-weight="normal" fill="#000" stroke="url(#gnld)" stroke-width="1.5" textLength="178.13" lengthAdjust="spacingAndGlyphs">Holandia</text>
<text id="deu" x="1354.86" y="1258" font-size="47.97" font-weight="normal" fill="#000" stroke="#c3dbb8" stroke-width="1.5" textLength="150.18" lengthAdjust="spacingAndGlyphs">Niemcy</text>
<text id="pol" x="1814.84" y="1232" font-size="47.97" font-weight="normal" fill="#000" stroke="#e5efe1" stroke-width="1.5" textLength="132.20" lengthAdjust="spacingAndGlyphs">Polska</text>
<text id="bel" x="1061.82" y="1293" font-size="47.97" font-weight="normal" fill="#000" stroke="#e5efe1" stroke-width="1.5" textLength="123.22" lengthAdjust="spacingAndGlyphs">Belgia</text>
<text id="lux" x="1009.64" y="1393" font-size="47.97" font-weight="normal" fill="#000" stroke="#c3dbb8" stroke-width="1.5" textLength="104.73" lengthAdjust="spacingAndGlyphs">Luks.</text>
<text id="cze" x="1567.88" y="1412.6" font-size="47.97" font-weight="normal" fill="#000" stroke="#e5efe1" stroke-width="1.5" textLength="142.06" lengthAdjust="spacingAndGlyphs">Czechy</text>
<text id="fra" x="913.85" y="1535" font-size="47.97" font-weight="normal" fill="#000" stroke="#c3dbb8" stroke-width="1.5" textLength="147.18" lengthAdjust="spacingAndGlyphs">Francja</text>
<text id="svk" x="1763.93" y="1558" font-size="47.97" font-weight="normal" fill="#000" stroke="#e5efe1" stroke-width="1.5" textLength="178.09" lengthAdjust="spacingAndGlyphs">Słowacja</text>
<text id="aut" x="1563.97" y="1620" font-size="47.97" font-weight="normal" fill="#000" stroke="#88bf7c" stroke-width="1.5" textLength="139.05" lengthAdjust="spacingAndGlyphs">Austria</text>
<text id="hun" x="1801.98" y="1670" font-size="47.97" font-weight="normal" fill="#000" stroke="#e5efe1" stroke-width="1.5" textLength="125.03" lengthAdjust="spacingAndGlyphs">Węgry</text>
<text id="svn" x="1563.77" y="1739" font-size="47.97" font-weight="normal" fill="#000" stroke="#c3dbb8" stroke-width="1.5" textLength="106.53" lengthAdjust="spacingAndGlyphs">Słow.</text>
<text id="rou" x="2078.87" y="1741" font-size="47.97" font-weight="normal" fill="#000" stroke="#c3dbb8" stroke-width="1.5" textLength="177.16" lengthAdjust="spacingAndGlyphs">Rumunia</text>
<text id="hrv" x="1670.94" y="1798" font-size="47.97" font-weight="normal" fill="#000" stroke="#88bf7c" stroke-width="1.5" textLength="214.08" lengthAdjust="spacingAndGlyphs">Chorwacja</text>
<text id="prt" x="108.89" y="1863" font-size="47.97" font-weight="normal" fill="#000" stroke="url(#gprt)" stroke-width="1.5" textLength="204.11" lengthAdjust="spacingAndGlyphs">Portugalia</text>
<text id="esp" x="411.89" y="1944" font-size="47.97" font-weight="normal" fill="#000" stroke="#c3dbb8" stroke-width="1.5" textLength="192.14" lengthAdjust="spacingAndGlyphs">Hiszpania</text>
<text id="ita" x="1390.97" y="1943" font-size="47.97" font-weight="normal" fill="#000" stroke="#c3dbb8" stroke-width="1.5" textLength="146.08" lengthAdjust="spacingAndGlyphs">Włochy</text>
<text id="bgr" x="2112.87" y="2017" font-size="47.97" font-weight="normal" fill="#000" stroke="#e5efe1" stroke-width="1.5" textLength="166.16" lengthAdjust="spacingAndGlyphs">Bułgaria</text>
<text id="grc" x="1938.90" y="2261" font-size="47.97" font-weight="normal" fill="#000" stroke="#c3dbb8" stroke-width="1.5" textLength="126.14" lengthAdjust="spacingAndGlyphs">Grecja</text>
<text id="mlt" x="1571.79" y="2533" font-size="47.97" font-weight="normal" fill="#000" stroke="#fff" stroke-width="1.5" textLength="106.26" lengthAdjust="spacingAndGlyphs">Malta</text>
<text id="cyp" x="2465.86" y="2531" font-size="47.97" font-weight="normal" fill="#000" stroke="#fff" stroke-width="1.5" textLength="91.19" lengthAdjust="spacingAndGlyphs">Cypr</text>
<text id="v_swe" x="1643.92" y="756" font-size="47.97" font-weight="bold" fill="#000" textLength="103.17" lengthAdjust="spacingAndGlyphs">52,9</text>
<text id="v_dk" x="1263.97" y="958" font-size="47.97" font-weight="bold" fill="#000" textLength="105.09" lengthAdjust="spacingAndGlyphs">46,9</text>
<text id="v_deu" x="1378.92" y="1322" font-size="47.97" font-weight="bold" fill="#000" textLength="103.17" lengthAdjust="spacingAndGlyphs">20,0</text>
<text id="v_pol" x="1830.84" y="1298" font-size="47.97" font-weight="bold" fill="#000" textLength="102.22" lengthAdjust="spacingAndGlyphs">14,5</text>
<text id="v_cze" x="1587.29" y="1477.8" font-size="47.97" font-weight="bold" fill="#000" textLength="103.49" lengthAdjust="spacingAndGlyphs">13,8</text>
<text id="v_fra" x="936.84" y="1597" font-size="47.97" font-weight="bold" fill="#000" textLength="103.27" lengthAdjust="spacingAndGlyphs">15,3</text>
<text id="v_rou" x="2115.94" y="1803" font-size="47.97" font-weight="bold" fill="#000" textLength="105.18" lengthAdjust="spacingAndGlyphs">20,5</text>
<text id="v_esp" x="458.91" y="2008" font-size="47.97" font-weight="bold" fill="#000" textLength="101.17" lengthAdjust="spacingAndGlyphs">20,0</text>
<text id="v_ita" x="1411.94" y="2007" font-size="47.97" font-weight="bold" fill="#000" textLength="101.09" lengthAdjust="spacingAndGlyphs">21,1</text>
<text id="v_mlt" x="1693.89" y="2533" font-size="47.97" font-weight="bold" fill="#000" textLength="70.20" lengthAdjust="spacingAndGlyphs">8,7</text>
<text id="src" x="41.17" y="2619.7" font-size="49.42" font-weight="normal" fill="#000" stroke="#fff" stroke-width="1.5" textLength="639.66" lengthAdjust="spacingAndGlyphs">Źródło: Eurostat, dane za 2023 r.</text>
<rect x="1125" y="1373.2" width="78" height="1.8" fill="#000"/>
<rect x="41" y="2648" width="2585" height="3.8" fill="#000"/>
<ellipse cx="2585" cy="2700" rx="40.2" ry="24.2" fill="none" stroke="#111" stroke-width="1.9"/>
<rect x="2553" y="2688.3" width="7.3" height="26.7" fill="#111"/>
<circle cx="2563.2" cy="2698.8" r="10.4" fill="#111"/>
<circle cx="2563.2" cy="2699" r="4.6" fill="#fff"/>
<rect x="2588.6" y="2688.3" width="7.2" height="20.9" fill="#111"/>
<circle cx="2585.2" cy="2698.8" r="10.4" fill="#111"/>
<circle cx="2585.2" cy="2699" r="4.6" fill="#fff"/>
<rect x="2599" y="2688.3" width="7.1" height="26.7" fill="#111"/>
<circle cx="2609.4" cy="2698.8" r="10.4" fill="#111"/>
<circle cx="2609.4" cy="2699" r="4.6" fill="#fff"/>
</svg></body></html>
